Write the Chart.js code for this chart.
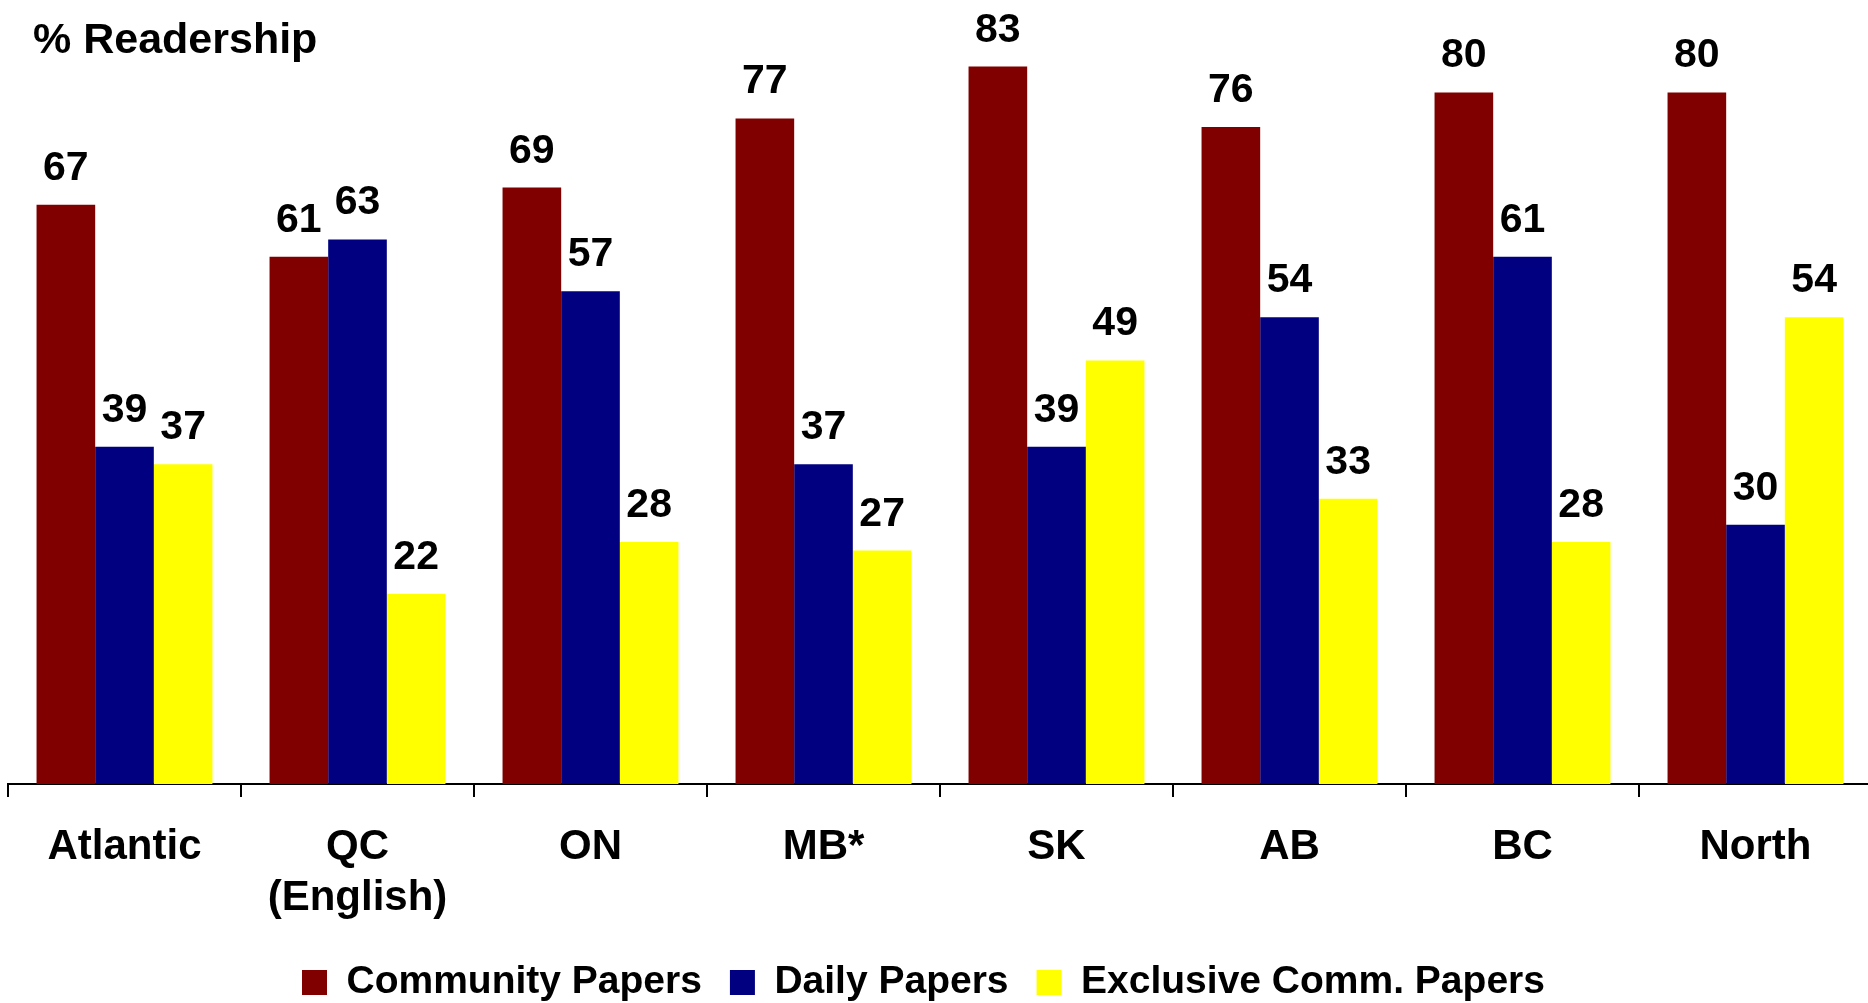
<!DOCTYPE html>
<html>
<head>
<meta charset="utf-8">
<script src="https://cdn.jsdelivr.net/npm/chart.js@4/dist/chart.umd.min.js"></script>
<style>
  html, body { margin: 0; padding: 0; overflow: hidden; background: #ffffff; }
  #wrap { position: relative; width: 1872px; height: 1003px; }
</style>
</head>
<body>
<div id="wrap"><canvas id="c" width="1872" height="1003" style="width:1872px;height:1003px"></canvas></div>
<script>
const categories = ['Atlantic', ['QC', '(English)'], 'ON', 'MB*', 'SK', 'AB', 'BC', 'North'];
const seriesNames = ['Community Papers', 'Daily Papers', 'Exclusive Comm. Papers'];
const communityPapers = [67, 61, 69, 77, 83, 76, 80, 80];
const dailyPapers = [39, 63, 57, 37, 39, 54, 61, 30];
const exclusiveCommPapers = [37, 22, 28, 27, 49, 33, 28, 54];
const seriesColors = ['#800000', '#000080', '#FFFF00'];
const yTitle = '% Readership';

const FONT = "'Liberation Sans', Arial, Helvetica, sans-serif";
Chart.defaults.font.family = FONT;
Chart.defaults.color = '#000000';

const valueLabels = {
  id: 'valueLabels',
  afterDatasetsDraw(chart) {
    const ctx = chart.ctx;
    ctx.save();
    ctx.font = 'bold 41px ' + FONT;
    ctx.fillStyle = '#000000';
    ctx.textAlign = 'center';
    ctx.textBaseline = 'alphabetic';
    chart.data.datasets.forEach((ds, di) => {
      const meta = chart.getDatasetMeta(di);
      meta.data.forEach((bar, i) => {
        ctx.fillText(String(ds.data[i]), bar.x, bar.y - 25);
      });
    });
    ctx.restore();
  }
};

const titleText = {
  id: 'titleText',
  afterDraw(chart) {
    const ctx = chart.ctx;
    ctx.save();
    ctx.font = 'bold 43px ' + FONT;
    ctx.fillStyle = '#000000';
    ctx.textAlign = 'left';
    ctx.textBaseline = 'alphabetic';
    ctx.fillText(yTitle, 33, 53);
    ctx.restore();
  }
};

const legendPlace = {
  id: 'legendPlace',
  afterLayout(chart) {
    const lg = chart.legend;
    if (!lg) return;
    const pad = 28;
    const target = 302;
    const lw = lg.lineWidths[0];
    const h = lg.height;
    lg.left = 0;
    lg.right = 2 * target + lw - pad;
    lg.width = lg.right;
    lg.top = 935;
    lg.bottom = 935 + h;
  }
};

new Chart(document.getElementById('c'), {
  type: 'bar',
  data: {
    labels: categories,
    datasets: [
      { label: seriesNames[0], data: communityPapers, backgroundColor: seriesColors[0], borderWidth: 0 },
      { label: seriesNames[1], data: dailyPapers, backgroundColor: seriesColors[1], borderWidth: 0 },
      { label: seriesNames[2], data: exclusiveCommPapers, backgroundColor: seriesColors[2], borderWidth: 0 }
    ]
  },
  options: {
    responsive: false,
    animation: false,
    devicePixelRatio: 1,
    layout: { padding: { left: 8, right: 0, top: 6, bottom: 0 } },
    datasets: { bar: { categoryPercentage: 0.755, barPercentage: 1.0 } },
    scales: {
      x: {
        grid: { display: true, drawOnChartArea: false, drawTicks: true, tickLength: 13, color: '#000000', lineWidth: 2, offset: true },
        border: { display: true, color: '#000000', width: 2 },
        ticks: { color: '#000000', font: { size: 42, weight: 'bold', lineHeight: 1.214 }, padding: 25, maxRotation: 0, autoSkip: false },
        afterFit(scale) { scale.height = 142; }
      },
      y: {
        display: false,
        min: 0,
        max: 90
      }
    },
    plugins: {
      legend: {
        position: 'bottom',
        align: 'center',
        labels: {
          boxWidth: 25,
          boxHeight: 25,
          padding: 28,
          color: '#000000',
          font: { size: 39, weight: 'bold' }
        }
      },
      title: { display: false },
      tooltip: { enabled: false }
    }
  },
  plugins: [valueLabels, titleText, legendPlace]
});
</script>
</body>
</html>
